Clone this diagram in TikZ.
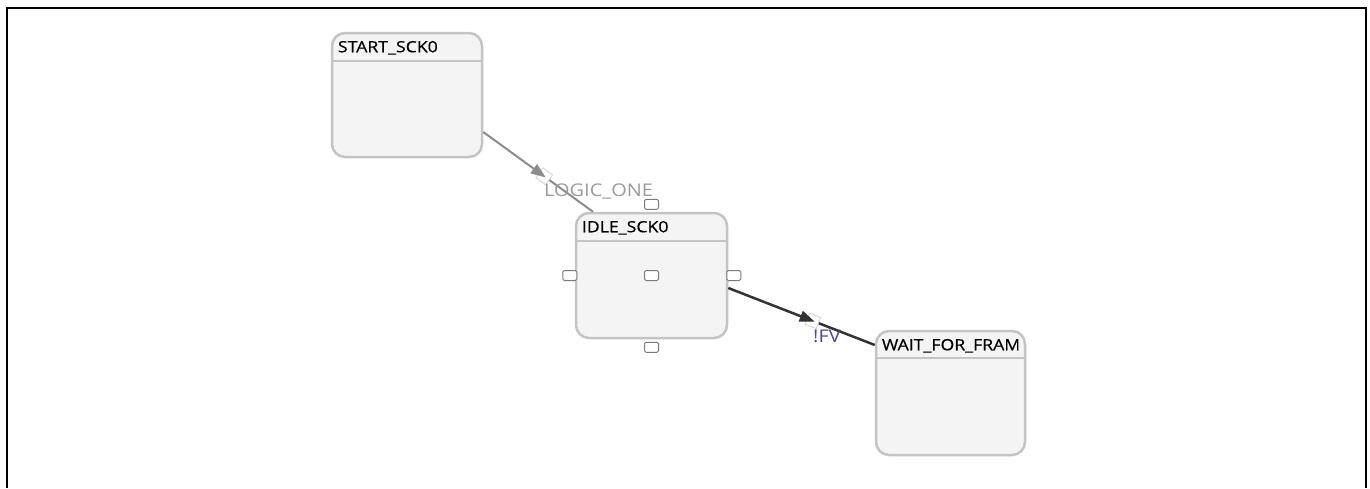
\documentclass[tikz,border=0pt]{standalone}
\usepackage{fontspec}
\setmainfont{Open Sans}
\newfontfamily\uifont[FakeStretch=1.14]{Open Sans}
\newfontfamily\titlefont[FakeStretch=1.14,FakeBold=0.6]{Open Sans}
\usetikzlibrary{arrows.meta,decorations.markings}
\definecolor{boxgray}{HTML}{C4C4C4}
\definecolor{boxfill}{HTML}{F4F4F4}
\definecolor{edgeone}{HTML}{8C8C8C}
\definecolor{edgetwo}{HTML}{333333}
\definecolor{lblgray}{HTML}{9A9A9A}
\definecolor{lblblue}{HTML}{4A4A8C}
\definecolor{handlegray}{HTML}{7A7A7A}
\tikzset{
  statebox/.style={draw=boxgray, fill=boxfill, line width=2.5pt, rounded corners=13pt, inner sep=0pt},
  hdrline/.style={draw=boxgray, line width=2.5pt},
  titletext/.style={anchor=base west, inner sep=0pt, font=\titlefont\fontsize{15.5}{18}\selectfont, text=black},
  handlebox/.style={draw=handlegray, fill=white, line width=1pt, rounded corners=1.5pt, minimum width=14pt, minimum height=10pt, inner sep=0pt},
  midarrow/.style 2 args={postaction={decorate}, decoration={markings,
    mark=at position #1 with {\draw[draw=gray!35, fill=white, line width=0.8pt] (-8pt,-6pt) rectangle (4pt,6pt);
      \arrow[#2]{Triangle[length=15pt,width=11pt]}}}},
}
\begin{document}
\begin{tikzpicture}[x=1pt,y=-1pt]
\useasboundingbox (0,0) rectangle (1370,488);
\draw[line width=2pt] (7,488) -- (7,8) -- (1366,8) -- (1366,488);

% states
\node[statebox, minimum width=150pt, minimum height=124pt] (start) at (407,95) {};
\node[statebox, minimum width=151pt, minimum height=125pt] (idle) at (651.5,275.5) {};
\node[statebox, minimum width=149pt, minimum height=124pt] (wait) at (950.5,393) {};

\draw[hdrline] ([yshift=-29]start.north west) -- ([yshift=-29]start.north east);
\draw[hdrline] ([yshift=-29]idle.north west) -- ([yshift=-29]idle.north east);
\draw[hdrline] ([yshift=-28]wait.north west) -- ([yshift=-28]wait.north east);

\node[titletext] (starttitle) at ([xshift=7,yshift=-20.5]start.north west) {START\_SCK0};
\node[titletext] (idletitle) at ([xshift=7,yshift=-20.5]idle.north west) {IDLE\_SCK0};
\begin{scope}
  \clip ([xshift=2]wait.north west) rectangle ([xshift=-8,yshift=-27]wait.north east);
  \node[titletext] (waittitle) at ([xshift=7,yshift=-20.5]wait.north west) {WAIT\_FOR\_FRAME};
\end{scope}

% transitions
\draw[edgeone, line width=2pt, midarrow={0.57}{edgeone}] ([yshift=-37]start.east) -- ([xshift=-58.5]idle.north);
\draw[edgetwo, line width=2.5pt, midarrow={0.59}{edgetwo}] ([yshift=-12.5]idle.east) -- ([yshift=48]wait.west);

\node[anchor=base west, inner sep=0pt, text=lblgray, font=\uifont\fontsize{17.5}{20}\selectfont] (lblone) at (544,196) {LOGIC\_ONE};
\node[anchor=base west, inner sep=0pt, text=lblblue, font=\uifont\fontsize{17.5}{20}\selectfont] (lbltwo) at (813,342) {!FV};

% selection handles on IDLE_SCK0
\node[handlebox] (htop) at ([yshift=7.5]idle.north) {};
\node[handlebox] (hleft) at ([xshift=-5]idle.west) {};
\node[handlebox] (hcenter) at (idle.center) {};
\node[handlebox] (hright) at ([xshift=5.5]idle.east) {};
\node[handlebox] (hbottom) at ([yshift=-8]idle.south) {};
\end{tikzpicture}
\end{document}
